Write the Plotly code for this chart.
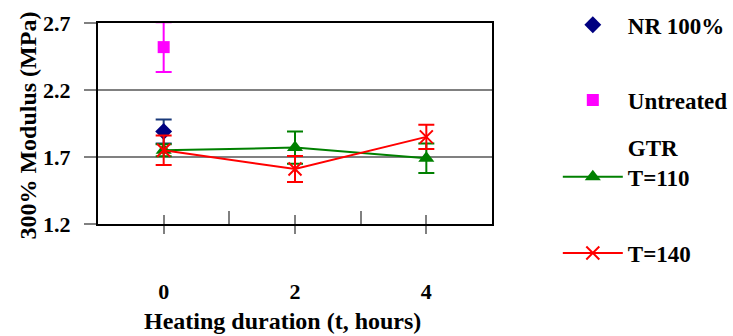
import plotly.graph_objects as go

# Heating duration (hours)
hours = [0, 2, 4]
hour_ticks = [0, 2, 4]
minor_hours = [1, 3]
modulus_ticks = [1.2, 1.7, 2.2, 2.7]
modulus_labels = ["1.2", "1.7", "2.2", "2.7"]

# Reference compounds (measured at t = 0 only)
nr_x = [0]
nr_y = [1.89]
nr_err = [0.09]

untreated_x = [0]
untreated_y = [2.52]
untreated_err = [0.185]

# GTR devulcanised at two temperatures
gtr110_y = [1.75, 1.77, 1.69]
gtr110_err = [0.045, 0.12, 0.11]

gtr140_y = [1.75, 1.61, 1.85]
gtr140_err = [0.11, 0.097, 0.09]

FONT = "Liberation Serif"
GRID = "#808080"


def bold(size):
    return dict(family=FONT, size=size, color="black", weight="bold")


fig = go.Figure()

fig.add_trace(go.Scatter(
    x=nr_x, y=nr_y, mode="markers", name="NR 100%",
    marker=dict(symbol="diamond", size=13, color="#000080"),
    error_y=dict(type="data", array=nr_err, color="#1a3a7a", thickness=2, width=8),
    legend="legend",
))
fig.add_trace(go.Scatter(
    x=untreated_x, y=untreated_y, mode="markers", name="Untreated",
    marker=dict(symbol="square", size=12, color="#FF00FF"),
    error_y=dict(type="data", array=untreated_err, color="#FF00FF", thickness=2, width=8),
    legend="legend2",
))
fig.add_trace(go.Scatter(
    x=hours, y=gtr110_y, mode="lines+markers", name="GTR<br>T=110",
    line=dict(color="#008000", width=2),
    marker=dict(symbol="triangle-up", size=14, color="#008000"),
    error_y=dict(type="data", array=gtr110_err, color="#008000", thickness=2, width=8),
    legend="legend3",
))
fig.add_trace(go.Scatter(
    x=hours, y=gtr140_y, mode="lines+markers", name="T=140",
    line=dict(color="#FF0000", width=2),
    marker=dict(symbol="x-thin", size=13, color="#FF0000",
                line=dict(color="#FF0000", width=2)),
    error_y=dict(type="data", array=gtr140_err, color="#FF0000", thickness=2, width=8),
    legend="legend4",
))
# carrier for the inner half of the crossing x ticks
fig.add_trace(go.Scatter(x=[None], y=[None], xaxis="x2", showlegend=False,
                         hoverinfo="skip", mode="markers"))

legend_common = dict(
    xref="container", yref="container", xanchor="left", yanchor="middle",
    x=0.761, bgcolor="rgba(0,0,0,0)", borderwidth=0, itemwidth=60,
    font=bold(23),
)

fig.update_layout(
    width=733, height=336,
    margin=dict(l=98, r=241, t=23, b=112, autoexpand=False),
    paper_bgcolor="white", plot_bgcolor="white",
    font=bold(22),
    showlegend=True,
    legend=dict(y=0.926, **legend_common),
    legend2=dict(y=0.702, **legend_common),
    legend3=dict(y=0.518, valign="bottom", **legend_common),
    legend4=dict(y=0.247, **legend_common),
    xaxis=dict(
        range=[-1, 5], tickvals=hour_ticks, ticktext=[str(h) for h in hour_ticks],
        ticks="outside", ticklen=8, tickwidth=1.5, tickcolor=GRID,
        ticklabelstandoff=39,
        minor=dict(tickvals=minor_hours, ticks="inside", ticklen=13,
                   tickwidth=1.5, tickcolor=GRID),
        showgrid=False, zeroline=False,
        showline=True, linecolor="black", linewidth=2, mirror=True,
        tickfont=bold(22),
    ),
    xaxis2=dict(
        range=[-1, 5], overlaying="x", anchor="y", tickvals=hour_ticks,
        ticks="inside", ticklen=9, tickwidth=1.5, tickcolor=GRID,
        showticklabels=False, showgrid=False, zeroline=False, showline=False,
    ),
    yaxis=dict(
        range=[1.2, 2.7], tickvals=modulus_ticks, ticktext=modulus_labels,
        ticks="outside", ticklen=12, tickwidth=1.5, tickcolor=GRID,
        ticklabelstandoff=9,
        showgrid=True, gridcolor=GRID, gridwidth=1.5, zeroline=False,
        showline=True, linecolor="black", linewidth=2, mirror=True,
        tickfont=bold(22),
    ),
    annotations=[
        dict(text="Heating duration (t, hours)", xref="paper", yref="paper",
             x=0.469, y=-0.485, xanchor="center", yanchor="middle",
             showarrow=False, font=bold(24)),
        dict(text="300% Modulus (MPa)", xref="paper", yref="paper",
             x=-0.18, y=0.49, xanchor="center", yanchor="middle", textangle=-90,
             showarrow=False, font=bold(24)),
    ],
)

fig.write_html("out.html")
